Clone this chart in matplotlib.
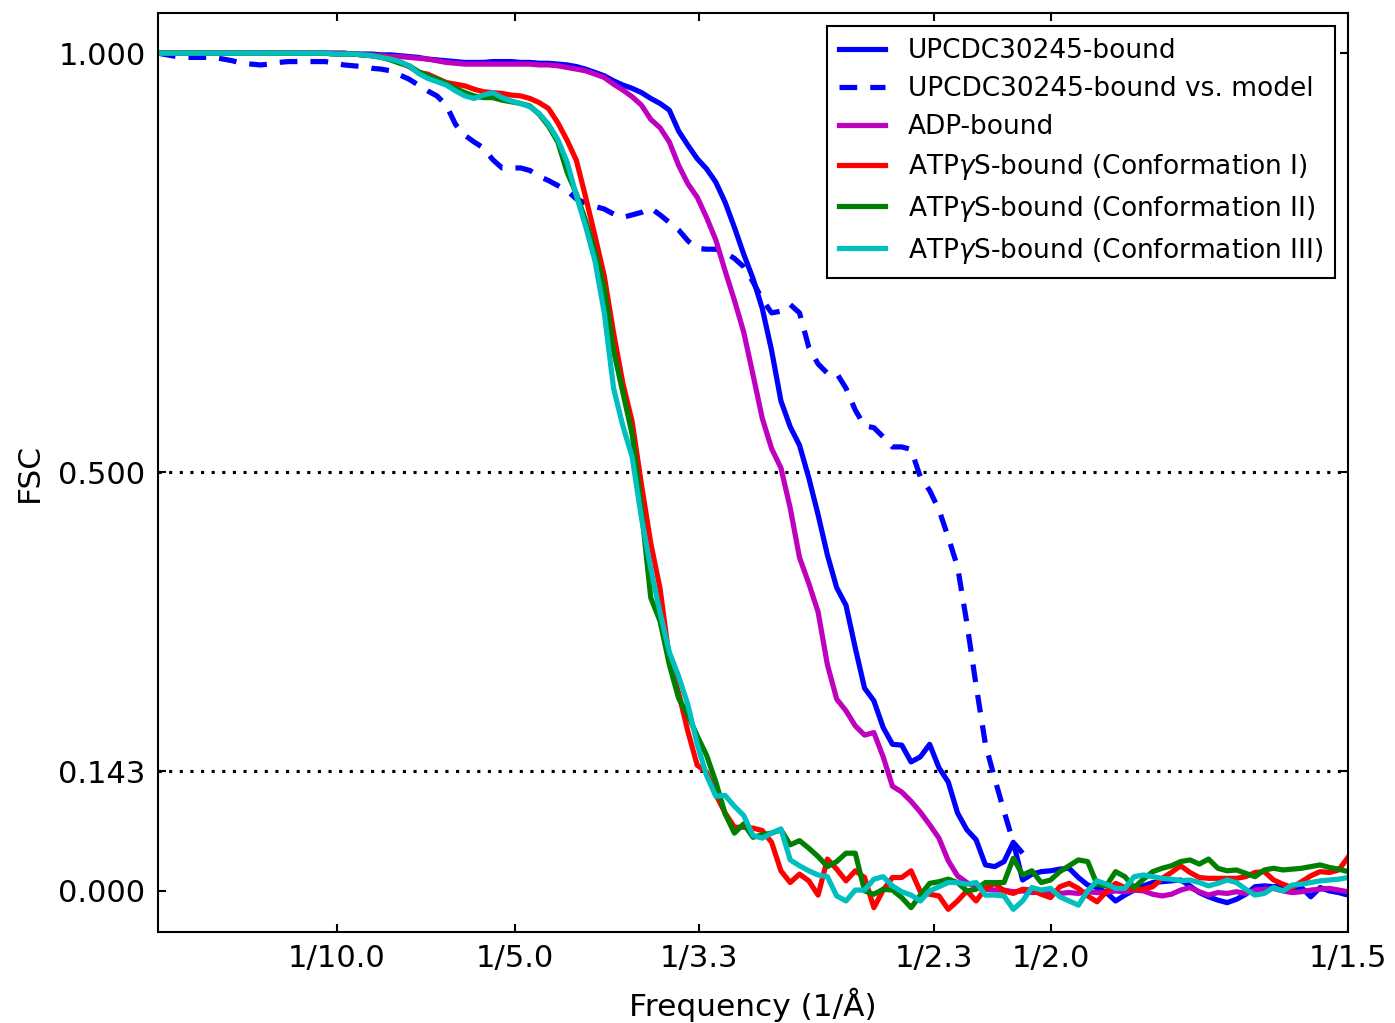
import numpy as np
import matplotlib
matplotlib.use('Agg')
import matplotlib.pyplot as plt

# Fourier shells: spacing 1/192 1/A, Nyquist at 1/1.5 A
shell_step = 1.0 / 192

upcdc = [
    1.000, 1.000, 1.000, 1.000, 1.000, 1.000, 1.000, 1.000, 1.000, 1.000,
    1.000, 1.000, 1.000, 1.000, 1.000, 1.000, 1.000, 1.000, 1.000, 1.000,
    1.000, 0.999, 0.999, 0.999, 0.998, 0.998, 0.997, 0.996, 0.995, 0.993,
    0.992, 0.991, 0.990, 0.989, 0.989, 0.989, 0.990, 0.990, 0.990, 0.989,
    0.989, 0.988, 0.988, 0.987, 0.986, 0.984, 0.981, 0.977, 0.973, 0.967,
    0.962, 0.958, 0.953, 0.946, 0.940, 0.932, 0.907, 0.890, 0.874, 0.862,
    0.846, 0.822, 0.792, 0.760, 0.731, 0.695, 0.645, 0.585, 0.554, 0.532,
    0.493, 0.449, 0.401, 0.362, 0.341, 0.290, 0.242, 0.227, 0.195, 0.175,
    0.174, 0.154, 0.160, 0.175, 0.147, 0.130, 0.093, 0.073, 0.061, 0.031,
    0.029, 0.035, 0.058, 0.013, 0.020, 0.023, 0.024, 0.026, 0.027, 0.016,
    0.007, 0.004, -0.002, -0.012, -0.005, 0.001, 0.006, 0.010, 0.011, 0.012,
    0.013, 0.006, -0.002, -0.007, -0.011, -0.014, -0.010, -0.004, 0.005, 0.006,
    0.005, 0.006, 0.004, 0.004, -0.007, 0.004, 0.000, -0.002, -0.005,
]

upcdc_model = [
    1.000, 0.998, 0.996, 0.995, 0.995, 0.995, 0.995, 0.993, 0.991, 0.988,
    0.987, 0.986, 0.987, 0.989, 0.990, 0.990, 0.990, 0.990, 0.990, 0.988,
    0.986, 0.985, 0.984, 0.982, 0.981, 0.979, 0.974, 0.969, 0.962, 0.955,
    0.949, 0.938, 0.915, 0.902, 0.894, 0.887, 0.873, 0.863, 0.863, 0.863,
    0.860, 0.853, 0.848, 0.842, 0.836, 0.826, 0.821, 0.817, 0.814, 0.808,
    0.804, 0.807, 0.810, 0.815, 0.807, 0.798, 0.789, 0.776, 0.767, 0.766,
    0.766, 0.762, 0.755, 0.745, 0.727, 0.706, 0.690, 0.692, 0.700, 0.690,
    0.649, 0.629, 0.618, 0.618, 0.600, 0.574, 0.555, 0.553, 0.542, 0.530,
    0.530, 0.527, 0.494, 0.478, 0.455, 0.422, 0.387, 0.320, 0.245, 0.175,
    0.134, 0.095, 0.058, 0.045,
]

adp = [
    1.000, 1.000, 1.000, 1.000, 1.000, 1.000, 1.000, 1.000, 1.000, 1.000,
    1.000, 1.000, 1.000, 1.000, 1.000, 1.000, 1.000, 1.000, 1.000, 1.000,
    1.000, 0.999, 0.998, 0.998, 0.997, 0.996, 0.996, 0.995, 0.994, 0.993,
    0.991, 0.989, 0.988, 0.987, 0.987, 0.987, 0.987, 0.987, 0.987, 0.987,
    0.987, 0.986, 0.986, 0.985, 0.983, 0.981, 0.979, 0.975, 0.971, 0.963,
    0.956, 0.948, 0.938, 0.921, 0.911, 0.894, 0.866, 0.844, 0.828, 0.804,
    0.777, 0.740, 0.705, 0.667, 0.616, 0.564, 0.528, 0.505, 0.457, 0.398,
    0.367, 0.333, 0.270, 0.229, 0.215, 0.197, 0.186, 0.189, 0.160, 0.125,
    0.118, 0.107, 0.094, 0.079, 0.063, 0.036, 0.018, 0.010, 0.005, 0.002,
    0.001, 0.001, -0.001, 0.000, -0.002, -0.001, -0.002, -0.003, -0.002, -0.003,
    -0.001, -0.002, -0.002, 0.000, -0.001, 0.001, 0.000, -0.004, -0.006, -0.004,
    0.001, 0.004, -0.001, -0.005, -0.002, -0.003, -0.001, -0.003, 0.001, 0.002,
    0.003, 0.000, -0.002, -0.001, 0.001, 0.002, 0.003, 0.001, -0.001,
]

atp_conf1 = [
    1.000, 1.000, 1.000, 1.000, 1.000, 1.000, 1.000, 1.000, 1.000, 1.000,
    1.000, 1.000, 1.000, 1.000, 1.000, 1.000, 1.000, 1.000, 1.000, 0.999,
    0.999, 0.999, 0.998, 0.997, 0.996, 0.994, 0.989, 0.984, 0.977, 0.975,
    0.970, 0.965, 0.963, 0.961, 0.957, 0.954, 0.953, 0.952, 0.950, 0.949,
    0.946, 0.941, 0.934, 0.917, 0.896, 0.872, 0.828, 0.782, 0.734, 0.666,
    0.606, 0.560, 0.485, 0.415, 0.361, 0.277, 0.236, 0.190, 0.150, 0.142,
    0.115, 0.093, 0.076, 0.076, 0.075, 0.072, 0.058, 0.024, 0.010, 0.020,
    0.012, -0.005, 0.038, 0.026, 0.012, 0.024, 0.016, -0.020, 0.001, 0.016,
    0.016, 0.024, -0.001, -0.004, -0.006, -0.022, -0.012, 0.000, -0.012, 0.003,
    0.009, 0.000, -0.003, 0.002, 0.001, -0.004, -0.008, 0.005, 0.009, 0.003,
    -0.006, -0.013, -0.001, 0.009, 0.004, 0.002, 0.002, 0.005, 0.015, 0.022,
    0.030, 0.022, 0.016, 0.015, 0.015, 0.015, 0.015, 0.017, 0.022, 0.023,
    0.013, 0.008, 0.004, 0.011, 0.018, 0.023, 0.022, 0.025, 0.040,
]

atp_conf2 = [
    1.000, 1.000, 1.000, 1.000, 1.000, 1.000, 1.000, 1.000, 1.000, 1.000,
    1.000, 1.000, 1.000, 1.000, 1.000, 1.000, 1.000, 1.000, 1.000, 0.999,
    0.999, 0.999, 0.998, 0.997, 0.995, 0.992, 0.988, 0.985, 0.978, 0.973,
    0.969, 0.964, 0.958, 0.953, 0.949, 0.947, 0.947, 0.944, 0.942, 0.940,
    0.937, 0.927, 0.913, 0.894, 0.858, 0.832, 0.800, 0.763, 0.720, 0.645,
    0.595, 0.545, 0.455, 0.350, 0.322, 0.270, 0.230, 0.210, 0.185, 0.162,
    0.130, 0.092, 0.069, 0.080, 0.064, 0.067, 0.069, 0.073, 0.055, 0.060,
    0.051, 0.041, 0.029, 0.035, 0.045, 0.045, 0.000, -0.004, 0.002, 0.001,
    -0.008, -0.020, -0.005, 0.009, 0.011, 0.014, 0.010, 0.000, 0.002, 0.010,
    0.010, 0.010, 0.039, 0.019, 0.024, 0.010, 0.013, 0.023, 0.030, 0.037,
    0.035, 0.008, 0.006, 0.023, 0.017, 0.004, 0.014, 0.023, 0.027, 0.030,
    0.035, 0.037, 0.032, 0.038, 0.027, 0.024, 0.025, 0.021, 0.017, 0.025,
    0.027, 0.025, 0.026, 0.027, 0.029, 0.031, 0.028, 0.026, 0.023,
]

atp_conf3 = [
    1.000, 1.000, 1.000, 1.000, 1.000, 1.000, 1.000, 1.000, 1.000, 1.000,
    1.000, 1.000, 1.000, 1.000, 1.000, 1.000, 1.000, 1.000, 1.000, 0.999,
    0.999, 0.999, 0.998, 0.997, 0.995, 0.993, 0.990, 0.985, 0.976, 0.970,
    0.966, 0.962, 0.955, 0.949, 0.946, 0.950, 0.953, 0.947, 0.943, 0.940,
    0.936, 0.928, 0.915, 0.897, 0.870, 0.830, 0.793, 0.752, 0.690, 0.600,
    0.555, 0.518, 0.445, 0.385, 0.332, 0.285, 0.256, 0.222, 0.175, 0.138,
    0.113, 0.114, 0.101, 0.090, 0.066, 0.063, 0.069, 0.074, 0.037, 0.030,
    0.024, 0.019, 0.017, -0.006, -0.012, 0.001, 0.001, 0.014, 0.017, 0.006,
    -0.001, -0.005, -0.012, 0.000, 0.005, 0.010, 0.010, 0.008, 0.010, -0.005,
    -0.005, -0.006, -0.022, -0.012, 0.004, 0.001, 0.003, -0.007, -0.012, -0.017,
    0.000, 0.012, 0.008, 0.003, 0.003, 0.017, 0.019, 0.017, 0.015, 0.014,
    0.012, 0.013, 0.010, 0.006, 0.009, 0.013, 0.010, 0.002, -0.005, -0.003,
    0.004, 0.000, 0.007, 0.008, 0.010, 0.012, 0.013, 0.014, 0.016,
]

labels = [
    'UPCDC30245-bound',
    'UPCDC30245-bound vs. model',
    'ADP-bound',
    r'ATP$\gamma$S-bound (Conformation I)',
    r'ATP$\gamma$S-bound (Conformation II)',
    r'ATP$\gamma$S-bound (Conformation III)',
]
curves = [upcdc, upcdc_model, adp, atp_conf1, atp_conf2, atp_conf3]
colors = ['b', 'b', 'm', 'r', 'g', 'c']
styles = ['-', '--', '-', '-', '-', '-']

resolutions = [10.0, 5.0, 3.3, 2.3, 2.0, 1.5]
fsc_ticks = [0.0, 0.143, 0.5, 1.0]

fig = plt.figure(figsize=(9.3, 6.82), dpi=150)
ax = fig.add_axes([0.1133, 0.0890, 0.8530, 0.8983])

for fsc, lab, col, st in zip(curves, labels, colors, styles):
    freq = np.arange(len(fsc)) * shell_step
    if st == '--':
        ax.plot(freq, fsc, color=col, lw=2.5, ls='--', dashes=(3.4, 2.5), label=lab)
    else:
        ax.plot(freq, fsc, color=col, lw=2.5, ls=st, label=lab)

for thr in [0.5, 0.143]:
    ax.axhline(thr, color='k', lw=1.5, ls=(0, (1, 2.4)), zorder=0)

ax.set_xlim(0, 1 / 1.5)
ax.set_ylim(-0.049, 1.048)
ax.set_xticks([1 / r for r in resolutions])
ax.set_xticklabels(['1/%.1f' % r for r in resolutions])
ax.set_yticks(fsc_ticks)
ax.set_yticklabels(['%.3f' % t for t in fsc_ticks])
ax.tick_params(direction='in', top=True, right=True, length=4, width=1,
               labelsize=14.7, pad=6)
for sp in ax.spines.values():
    sp.set_linewidth(1.0)

ax.set_xlabel(u'Frequency (1/\u00c5)', fontsize=15, labelpad=7)
ax.set_ylabel('FSC', fontsize=15, labelpad=7)

leg = ax.legend(loc='upper right', fontsize=12.7, fancybox=False,
                handlelength=1.75, handletextpad=0.85, labelspacing=0.45,
                borderpad=0.45)
leg.get_frame().set_edgecolor('k')
leg.get_frame().set_linewidth(1.0)
leg.get_frame().set_alpha(1.0)

fig.savefig('out.png', dpi=150)
